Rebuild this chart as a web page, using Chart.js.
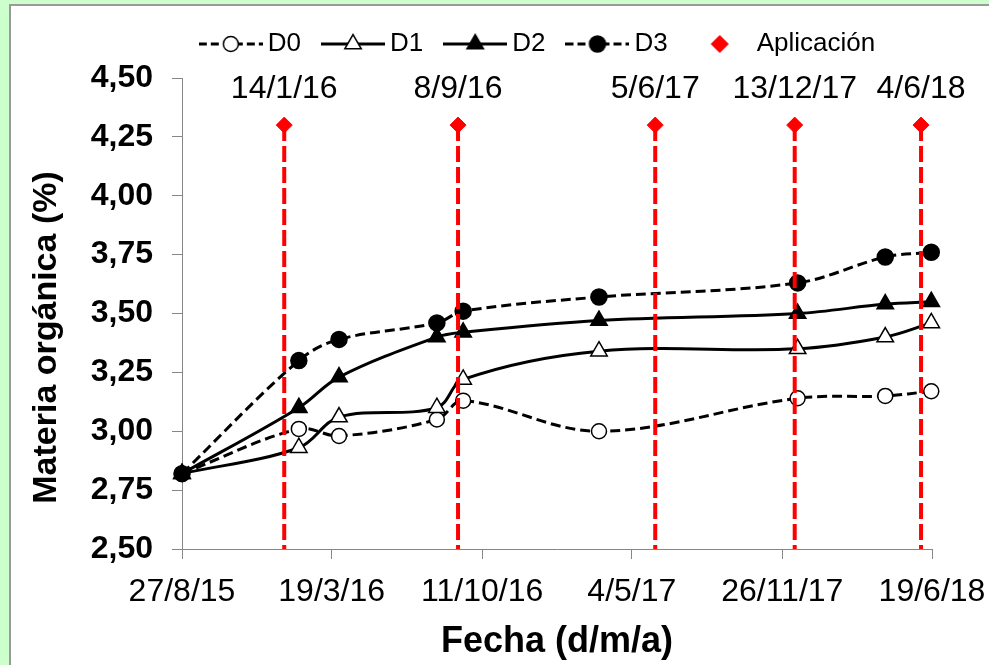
<!DOCTYPE html>
<html>
<head>
<meta charset="utf-8">
<script src="https://cdn.jsdelivr.net/npm/chart.js@4.4.0/dist/chart.umd.min.js"></script>
<style>
    html, body { margin: 0; padding: 0; }
    body { width: 989px; height: 665px; background: #ccffcc; position: relative; overflow: hidden; }
    #panel { position: absolute; left: 9px; top: 4px; right: 0; bottom: 0; background: #ffffff; border-left: 2px solid #9a9a9a; border-top: 2px solid #9a9a9a; }
    #chart { position: absolute; left: 0; top: 0; }
</style>
</head>
<body>
<div id="panel"></div>
<canvas id="chart" width="989" height="665"></canvas>
<script>
// Sampling dates (d/m/yy) and organic matter (%) per dose
const sampleDates = ['27/8/15', '3/2/16', '29/3/16', '10/8/16', '15/9/16', '20/3/17', '17/12/17', '16/4/18', '18/6/18'];
const d0 = [2.82, 3.01, 2.98, 3.05, 3.13, 3.00, 3.14, 3.15, 3.17];
const d1 = [2.82, 2.93, 3.06, 3.10, 3.22, 3.34, 3.35, 3.40, 3.46];
const d2 = [2.82, 3.10, 3.23, 3.40, 3.42, 3.47, 3.50, 3.54, 3.55];
const d3 = [2.82, 3.30, 3.39, 3.46, 3.51, 3.57, 3.63, 3.74, 3.76];

// Application dates, drawn as markers at a fixed level
const appDates = ['14/1/16', '8/9/16', '5/6/17', '13/12/17', '4/6/18'];
const appLevel = 4.30;

// Axis ranges
const axisStart = '27/8/15';
const axisEnd = '19/6/18';
const xTickCount = 6;
const yMin = 2.5;
const yMax = 4.5;
const yStep = 0.25;

const DAY = 86400000;
const fontFamily = '"Liberation Sans", Arial, sans-serif';
Chart.defaults.font.family = fontFamily;
Chart.defaults.color = '#000000';

// d/m/yy -> timestamp
function toTime(s) {
    const parts = s.split('/').map(Number);
    return Date.UTC(2000 + parts[2], parts[1] - 1, parts[0]);
}

// timestamp -> d/m/yy
function fmtDate(v) {
    const d = new Date(v);
    return d.getUTCDate() + '/' + (d.getUTCMonth() + 1) + '/' + String(d.getUTCFullYear()).slice(2);
}

function toPoints(values) {
    return values.map(function (v, i) { return { x: toTime(sampleDates[i]), y: v }; });
}

// Small canvases used as legend symbols (line sample + marker)
function legendSample(dash, pointStyle, radius, fill, showLine) {
    const c = document.createElement('canvas');
    c.width = 64;
    c.height = 24;
    const g = c.getContext('2d');
    if (showLine) {
        g.strokeStyle = '#000000';
        g.lineWidth = 3;
        g.setLineDash(dash);
        g.beginPath();
        g.moveTo(0, 12);
        g.lineTo(64, 12);
        g.stroke();
        g.setLineDash([]);
    }
    g.fillStyle = fill;
    g.strokeStyle = fill === '#ff0000' ? '#ff0000' : '#000000';
    g.lineWidth = 1.5;
    Chart.helpers.drawPoint(g, { pointStyle: pointStyle, radius: radius, borderWidth: 1.5 }, 32, 12);
    return c;
}

const legendSamples = [
    legendSample([8, 4], 'circle', 7.5, '#ffffff', true),
    legendSample([], 'triangle', 9.5, '#ffffff', true),
    legendSample([], 'triangle', 9.5, '#000000', true),
    legendSample([8, 4], 'circle', 8, '#000000', true),
    legendSample([], 'rectRot', 8, '#ff0000', false)
];

// Dashed red lines from each application marker down to the x axis, plus date labels
const applicationMarks = {
    id: 'applicationMarks',
    afterDatasetsDraw(chart) {
        const meta = chart.getDatasetMeta(4);
        const bottom = chart.chartArea.bottom;
        const ctx = chart.ctx;
        ctx.save();
        ctx.strokeStyle = '#ff0000';
        ctx.lineWidth = 4;
        ctx.setLineDash([16, 5]);
        meta.data.forEach(function (pt) {
            ctx.beginPath();
            ctx.moveTo(pt.x, pt.y);
            ctx.lineTo(pt.x, bottom);
            ctx.stroke();
        });
        ctx.setLineDash([]);
        ctx.fillStyle = '#000000';
        ctx.font = '32px ' + fontFamily;
        ctx.textAlign = 'center';
        ctx.textBaseline = 'middle';
        meta.data.forEach(function (pt, i) {
            ctx.fillText(appDates[i], pt.x, pt.y - 36);
        });
        ctx.restore();
    }
};

// Y axis title, drawn a little below the middle of the axis as in the original
const yTitle = {
    id: 'yTitle',
    afterDraw(chart) {
        const y = chart.scales.y;
        const ctx = chart.ctx;
        ctx.save();
        ctx.translate(y.left + 47, (y.top + y.bottom) / 2 + 24);
        ctx.rotate(-Math.PI / 2);
        ctx.fillStyle = '#000000';
        ctx.font = 'bold 34px ' + fontFamily;
        ctx.textAlign = 'center';
        ctx.textBaseline = 'middle';
        ctx.fillText('Materia orgánica (%)', 0, 0);
        ctx.restore();
    }
};

// Extra room under the legend and a horizontal offset for it
const legendTweak = {
    id: 'legendTweak',
    beforeLayout(chart) {
        const lg = chart.legend;
        if (lg && !lg._tweaked) {
            const fit = lg.fit;
            lg.fit = function () {
                fit.call(this);
                this.height += 11;
            };
            lg._tweaked = true;
        }
    },
    afterLayout(chart) {
        chart.legend.left += 75;
        chart.legend.right += 75;
    }
};

const lineCommon = {
    borderColor: '#000000',
    backgroundColor: '#000000',
    borderWidth: 3,
    pointBorderColor: '#000000',
    pointBorderWidth: 1.5,
    tension: 0.35,
    fill: false,
    clip: false
};

const ctx = document.getElementById('chart').getContext('2d');
new Chart(ctx, {
    type: 'line',
    data: {
        datasets: [
            Object.assign({}, lineCommon, {
                label: 'D0', data: toPoints(d0), borderDash: [10, 5], order: 5,
                pointStyle: 'circle', pointRadius: 7.5, pointBackgroundColor: '#ffffff'
            }),
            Object.assign({}, lineCommon, {
                label: 'D1', data: toPoints(d1), order: 4,
                pointStyle: 'triangle', pointRadius: 9.5, pointBackgroundColor: '#ffffff'
            }),
            Object.assign({}, lineCommon, {
                label: 'D2', data: toPoints(d2), order: 3,
                pointStyle: 'triangle', pointRadius: 9.5, pointBackgroundColor: '#000000'
            }),
            Object.assign({}, lineCommon, {
                label: 'D3', data: toPoints(d3), borderDash: [10, 5], order: 2,
                pointStyle: 'circle', pointRadius: 8, pointBackgroundColor: '#000000'
            }),
            {
                label: 'Aplicación',
                data: appDates.map(function (d) { return { x: toTime(d), y: appLevel }; }),
                showLine: false,
                clip: false,
                order: 1,
                pointStyle: 'rectRot',
                pointRadius: 8,
                pointBackgroundColor: '#ff0000',
                pointBorderColor: '#ff0000',
                borderColor: '#ff0000',
                backgroundColor: '#ff0000'
            }
        ]
    },
    options: {
        responsive: false,
        animation: false,
        layout: { padding: { top: 3, right: 57, bottom: 0, left: 0 } },
        plugins: {
            tooltip: { enabled: false },
            legend: {
                position: 'top',
                labels: {
                    usePointStyle: true,
                    pointStyleWidth: 48,
                    padding: 28,
                    color: '#000000',
                    font: { size: 26 },
                    generateLabels(chart) {
                        const items = Chart.defaults.plugins.legend.labels.generateLabels(chart);
                        items.sort(function (a, b) { return a.datasetIndex - b.datasetIndex; });
                        items.forEach(function (it) { it.pointStyle = legendSamples[it.datasetIndex]; });
                        return items;
                    }
                }
            }
        },
        scales: {
            x: {
                type: 'linear',
                min: toTime(axisStart),
                max: toTime(axisEnd),
                afterBuildTicks(scale) {
                    // evenly spread ticks, rounded to whole days
                    const stepDays = (scale.max - scale.min) / DAY / (xTickCount - 1);
                    const ticks = [];
                    for (let k = 0; k < xTickCount; k++) ticks.push({ value: scale.min + Math.round(k * stepDays) * DAY });
                    scale.ticks = ticks;
                },
                afterFit(scale) {
                    scale.height = 116;
                    scale.paddingLeft = 0;
                    scale.paddingRight = 0;
                },
                ticks: {
                    callback: function (v) { return fmtDate(v); },
                    font: { size: 32 },
                    padding: 14,
                    maxRotation: 0,
                    autoSkip: false
                },
                grid: { drawOnChartArea: false, tickLength: 10, color: '#868686' },
                border: { color: '#868686', width: 1 },
                title: {
                    display: true,
                    text: 'Fecha (d/m/a)',
                    font: { size: 36, weight: 'bold' },
                    padding: { top: 0, bottom: 1 }
                }
            },
            y: {
                min: yMin,
                max: yMax,
                afterFit(scale) { scale.width = 182; },
                ticks: {
                    stepSize: yStep,
                    callback: function (v) { return v.toFixed(2).replace('.', ','); },
                    font: { size: 32, weight: 'bold' },
                    padding: 19
                },
                grid: { drawOnChartArea: false, tickLength: 10, color: '#868686' },
                border: { color: '#868686', width: 1 }
            }
        }
    },
    plugins: [applicationMarks, yTitle, legendTweak]
});
</script>
</body>
</html>
